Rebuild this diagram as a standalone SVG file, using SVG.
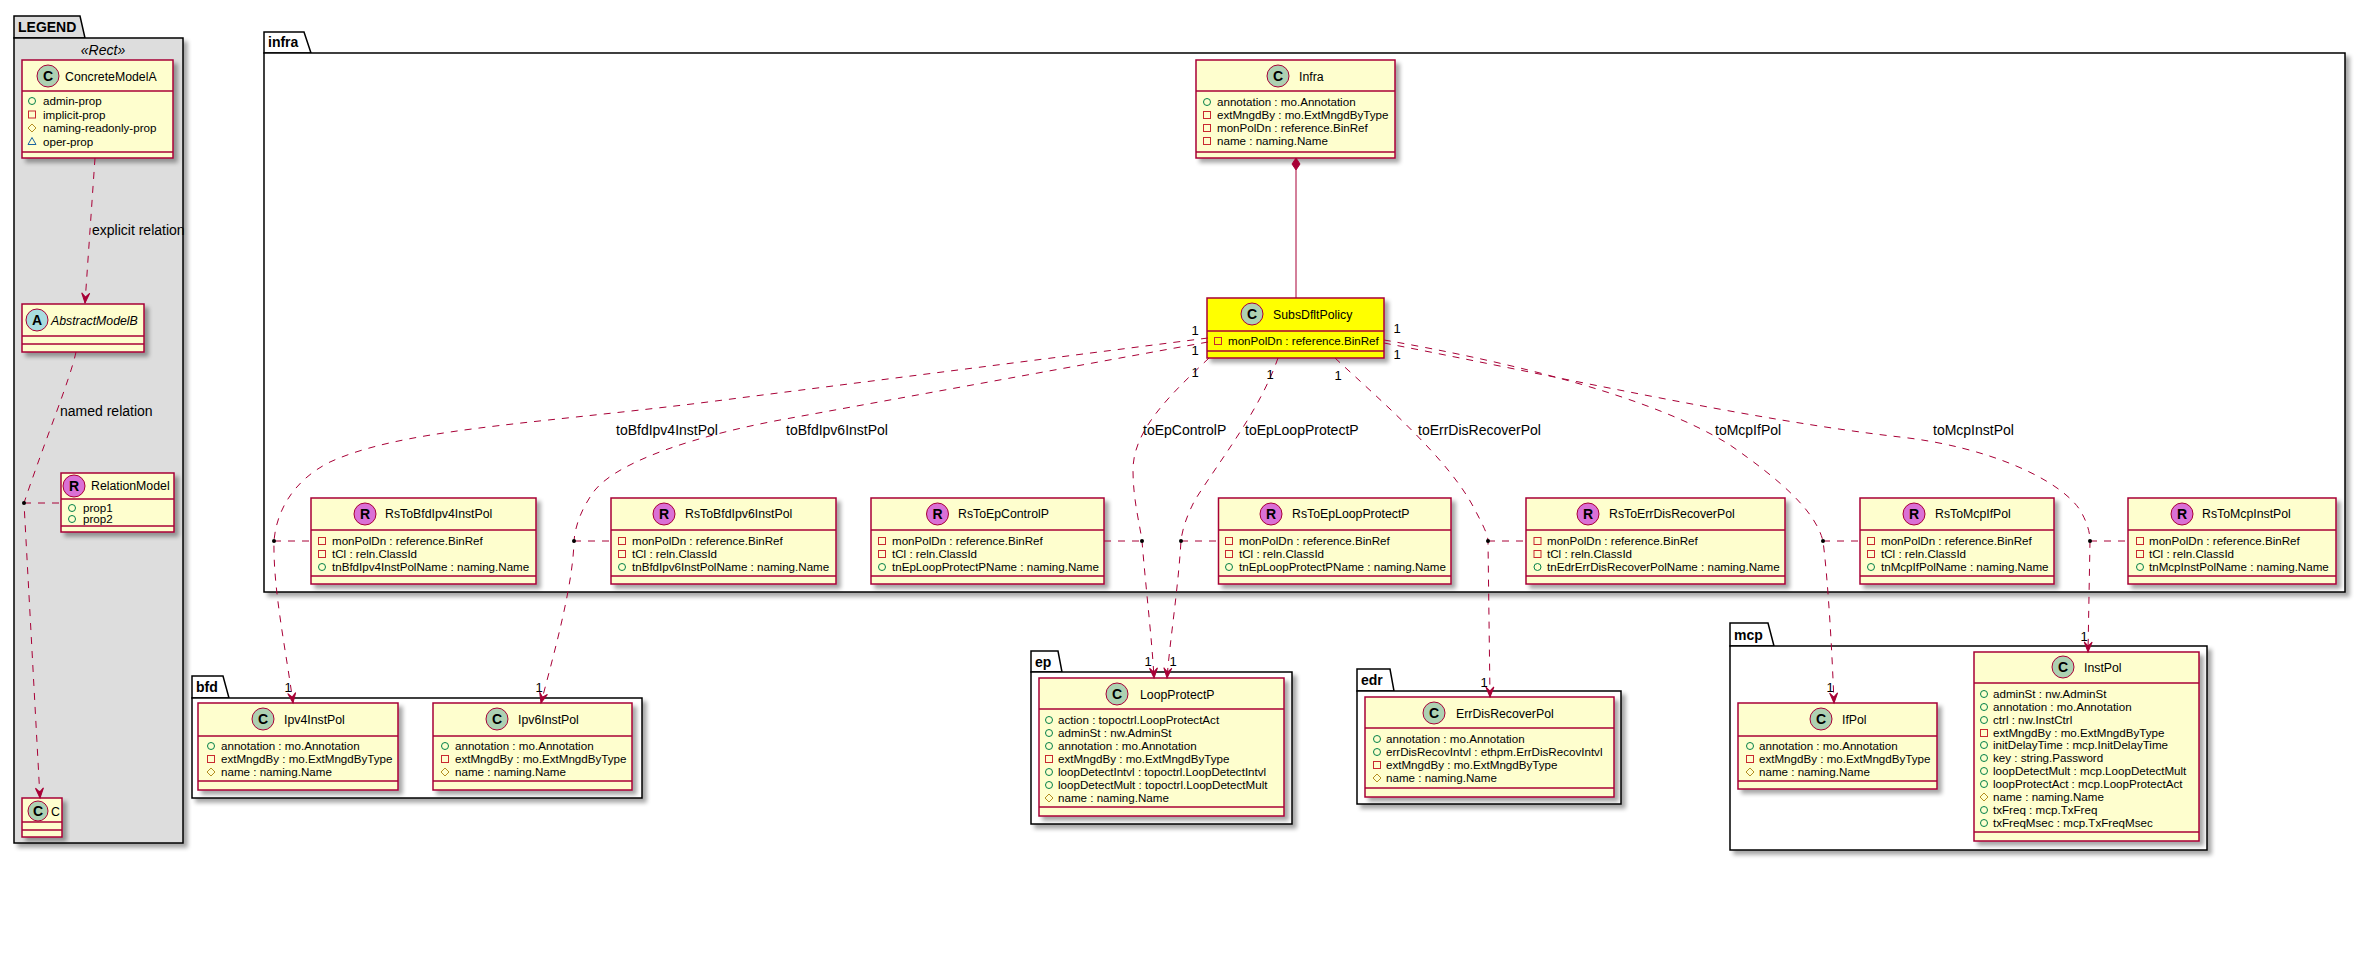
<svg xmlns="http://www.w3.org/2000/svg" xmlns:xlink="http://www.w3.org/1999/xlink" width="2365" height="970" viewBox="0 0 2365 970">
<defs>
<style>
text{font-family:"Liberation Sans",Arial,sans-serif;fill:#000}
.box{fill:#FEFECE;stroke:#A80036;stroke-width:1.5;filter:url(#sh)}
.ybox{fill:#FFFF00;stroke:#A80036;stroke-width:1.5;filter:url(#sh)}
.sep{stroke:#A80036;stroke-width:1.5}
.pkg{fill:#FFFFFF;stroke:#000;stroke-width:1.5}
.pkgb{fill:#FFFFFF;stroke:#000;stroke-width:1.5;filter:url(#sh)}
.lg{fill:#DDDDDD;stroke:#000;stroke-width:1.5}
.lgb{fill:#DDDDDD;stroke:#000;stroke-width:1.5;filter:url(#sh)}
.pt{font-size:14px;font-weight:bold}
.nm{font-size:12.3px}
.at{font-size:11.6px}
.bl{font-size:14px;font-weight:bold;text-anchor:middle}
.bC{fill:#ADD1B2;stroke:#A80036;stroke-width:1}
.bA{fill:#A9DCDF;stroke:#A80036;stroke-width:1}
.bR{fill:#DA70D6;stroke:#A80036;stroke-width:1}
.edge{fill:none;stroke:#A80036;stroke-width:1;stroke-dasharray:7,7}
.solid{fill:none;stroke:#A80036;stroke-width:1}
.lbl{font-size:14px}
.mul{font-size:13px;text-anchor:middle}
</style>
<filter id="sh" x="-10%" y="-10%" width="130%" height="130%">
<feGaussianBlur in="SourceAlpha" stdDeviation="2"/>
<feOffset dx="4" dy="4" result="o"/>
<feComponentTransfer><feFuncA type="linear" slope="0.35"/></feComponentTransfer>
<feMerge><feMergeNode/><feMergeNode in="SourceGraphic"/></feMerge>
</filter>
<marker id="ah" markerWidth="12" markerHeight="10" refX="0" refY="0" orient="auto" markerUnits="userSpaceOnUse" overflow="visible">
<path d="M0,0 L-10,-4 L-6,0 L-10,4 Z" fill="#A80036" stroke="#A80036" stroke-width="1"/>
</marker>
<g id="ipub"><circle r="3.5" fill="none" stroke="#038048" stroke-width="1"/></g>
<g id="ipriv"><rect x="-3.5" y="-3.5" width="7" height="7" fill="none" stroke="#C82930" stroke-width="1"/></g>
<g id="iprot"><path d="M0,-4 L4,0 L0,4 L-4,0 Z" fill="none" stroke="#B38D22" stroke-width="1"/></g>
<g id="ipkg"><path d="M0,-4 L4,3 L-4,3 Z" fill="none" stroke="#1963A0" stroke-width="1"/></g>
</defs>
<rect width="2365" height="970" fill="#FFFFFF"/>

<!-- packages -->
<g id="pkg-LEGEND">
<path class="lg" d="M14,38 L14,16 L80,16 L85,38 Z"/>
<rect class="lgb" x="14" y="38" width="169" height="805"/>
<text class="pt" x="18" y="32">LEGEND</text>
<text x="103" y="55" font-size="14" font-style="italic" text-anchor="middle">«Rect»</text>
</g>
<g id="pkg-infra">
<path class="pkg" d="M264,53 L264,32 L304,32 L311,53 Z"/>
<rect class="pkgb" x="264" y="53" width="2081" height="539"/>
<text class="pt" x="268" y="47">infra</text>
</g>
<g id="pkg-bfd">
<path class="pkg" d="M192,698 L192,676 L223,676 L229,698 Z"/>
<rect class="pkgb" x="192" y="698" width="450" height="100"/>
<text class="pt" x="196" y="692">bfd</text>
</g>
<g id="pkg-ep">
<path class="pkg" d="M1031,672 L1031,651 L1058,651 L1062,672 Z"/>
<rect class="pkgb" x="1031" y="672" width="261" height="152"/>
<text class="pt" x="1035" y="667">ep</text>
</g>
<g id="pkg-edr">
<path class="pkg" d="M1357,691 L1357,669 L1390,669 L1394,691 Z"/>
<rect class="pkgb" x="1357" y="691" width="264" height="113"/>
<text class="pt" x="1361" y="685">edr</text>
</g>
<g id="pkg-mcp">
<path class="pkg" d="M1730,646 L1730,623 L1768,623 L1774,646 Z"/>
<rect class="pkgb" x="1730" y="646" width="477" height="204"/>
<text class="pt" x="1734" y="640">mcp</text>
</g>

<!-- legend nodes -->
<g id="ConcreteModelA">
<rect class="box" x="22" y="60" width="151" height="98"/>
<line class="sep" x1="22" y1="91" x2="173" y2="91"/>
<line class="sep" x1="22" y1="152" x2="173" y2="152"/>
<circle class="bC" cx="48" cy="76" r="11"/><text class="bl" x="48" y="81">C</text>
<text class="nm" x="65" y="81">ConcreteModelA</text>
<use xlink:href="#ipub" x="32" y="101"/><text class="at" x="43" y="105">admin-prop</text>
<use xlink:href="#ipriv" x="32" y="114.5"/><text class="at" x="43" y="118.5">implicit-prop</text>
<use xlink:href="#iprot" x="32" y="128"/><text class="at" x="43" y="132">naming-readonly-prop</text>
<use xlink:href="#ipkg" x="32" y="141.5"/><text class="at" x="43" y="145.5">oper-prop</text>
</g>
<g id="AbstractModelB">
<rect class="box" x="22" y="304" width="122" height="48"/>
<line class="sep" x1="22" y1="336" x2="144" y2="336"/>
<line class="sep" x1="22" y1="344" x2="144" y2="344"/>
<circle class="bA" cx="37" cy="320" r="11"/><text class="bl" x="37" y="325">A</text>
<text class="nm" x="51" y="325" font-style="italic">AbstractModelB</text>
</g>
<g id="RelationModel">
<rect class="box" x="61" y="473" width="113" height="59"/>
<line class="sep" x1="61" y1="499" x2="174" y2="499"/>
<line class="sep" x1="61" y1="526" x2="174" y2="526"/>
<circle class="bR" cx="74" cy="486" r="11"/><text class="bl" x="74" y="491">R</text>
<text class="nm" x="91" y="490">RelationModel</text>
<use xlink:href="#ipub" x="72" y="508"/><text class="at" x="83" y="512">prop1</text>
<use xlink:href="#ipub" x="72" y="519"/><text class="at" x="83" y="523">prop2</text>
</g>
<g id="C">
<rect class="box" x="22" y="798" width="40" height="39"/>
<line class="sep" x1="22" y1="822" x2="62" y2="822"/>
<line class="sep" x1="22" y1="830" x2="62" y2="830"/>
<circle class="bC" cx="38" cy="811" r="10"/><text class="bl" x="38" y="816">C</text>
<text class="nm" x="51" y="816">C</text>
</g>

<!-- infra nodes -->
<g id="Infra">
<rect class="box" x="1196" y="60" width="199" height="98"/>
<line class="sep" x1="1196" y1="91" x2="1395" y2="91"/>
<line class="sep" x1="1196" y1="152" x2="1395" y2="152"/>
<circle class="bC" cx="1278" cy="76" r="11"/><text class="bl" x="1278" y="81">C</text>
<text class="nm" x="1299" y="81">Infra</text>
<use xlink:href="#ipub" x="1207" y="102"/><text class="at" x="1217" y="106">annotation : mo.Annotation</text>
<use xlink:href="#ipriv" x="1207" y="115"/><text class="at" x="1217" y="119">extMngdBy : mo.ExtMngdByType</text>
<use xlink:href="#ipriv" x="1207" y="128"/><text class="at" x="1217" y="132">monPolDn : reference.BinRef</text>
<use xlink:href="#ipriv" x="1207" y="141"/><text class="at" x="1217" y="145">name : naming.Name</text>
</g>
<g id="SubsDfltPolicy">
<rect class="ybox" x="1207" y="298" width="177" height="60"/>
<line class="sep" x1="1207" y1="331" x2="1384" y2="331"/>
<line class="sep" x1="1207" y1="351" x2="1384" y2="351"/>
<circle class="bC" cx="1252" cy="314" r="11"/><text class="bl" x="1252" y="319">C</text>
<text class="nm" x="1273" y="319">SubsDfltPolicy</text>
<use xlink:href="#ipriv" x="1218" y="341"/><text class="at" x="1228" y="345">monPolDn : reference.BinRef</text>
</g>

<g id="RsToBfdIpv4InstPol">
<rect class="box" x="311" y="498" width="225" height="86"/>
<line class="sep" x1="311" y1="530" x2="536" y2="530"/>
<line class="sep" x1="311" y1="576" x2="536" y2="576"/>
<circle class="bR" cx="365" cy="514" r="11"/><text class="bl" x="365" y="519">R</text>
<text class="nm" x="385" y="518">RsToBfdIpv4InstPol</text>
<use xlink:href="#ipriv" x="322" y="541"/><text class="at" x="332" y="545">monPolDn : reference.BinRef</text>
<use xlink:href="#ipriv" x="322" y="554"/><text class="at" x="332" y="558">tCl : reln.ClassId</text>
<use xlink:href="#ipub" x="322" y="567"/><text class="at" x="332" y="571">tnBfdIpv4InstPolName : naming.Name</text>
</g>
<g id="RsToBfdIpv6InstPol">
<rect class="box" x="611" y="498" width="225" height="86"/>
<line class="sep" x1="611" y1="530" x2="836" y2="530"/>
<line class="sep" x1="611" y1="576" x2="836" y2="576"/>
<circle class="bR" cx="664" cy="514" r="11"/><text class="bl" x="664" y="519">R</text>
<text class="nm" x="685" y="518">RsToBfdIpv6InstPol</text>
<use xlink:href="#ipriv" x="622" y="541"/><text class="at" x="632" y="545">monPolDn : reference.BinRef</text>
<use xlink:href="#ipriv" x="622" y="554"/><text class="at" x="632" y="558">tCl : reln.ClassId</text>
<use xlink:href="#ipub" x="622" y="567"/><text class="at" x="632" y="571">tnBfdIpv6InstPolName : naming.Name</text>
</g>
<g id="RsToEpControlP">
<rect class="box" x="871" y="498" width="233" height="86"/>
<line class="sep" x1="871" y1="530" x2="1104" y2="530"/>
<line class="sep" x1="871" y1="576" x2="1104" y2="576"/>
<circle class="bR" cx="937.5" cy="514" r="11"/><text class="bl" x="937.5" y="519">R</text>
<text class="nm" x="958" y="518">RsToEpControlP</text>
<use xlink:href="#ipriv" x="882" y="541"/><text class="at" x="892" y="545">monPolDn : reference.BinRef</text>
<use xlink:href="#ipriv" x="882" y="554"/><text class="at" x="892" y="558">tCl : reln.ClassId</text>
<use xlink:href="#ipub" x="882" y="567"/><text class="at" x="892" y="571">tnEpLoopProtectPName : naming.Name</text>
</g>
<g id="RsToEpLoopProtectP">
<rect class="box" x="1218.5" y="498" width="232.5" height="86"/>
<line class="sep" x1="1218.5" y1="530" x2="1451" y2="530"/>
<line class="sep" x1="1218.5" y1="576" x2="1451" y2="576"/>
<circle class="bR" cx="1271" cy="514" r="11"/><text class="bl" x="1271" y="519">R</text>
<text class="nm" x="1292" y="518">RsToEpLoopProtectP</text>
<use xlink:href="#ipriv" x="1229" y="541"/><text class="at" x="1239" y="545">monPolDn : reference.BinRef</text>
<use xlink:href="#ipriv" x="1229" y="554"/><text class="at" x="1239" y="558">tCl : reln.ClassId</text>
<use xlink:href="#ipub" x="1229" y="567"/><text class="at" x="1239" y="571">tnEpLoopProtectPName : naming.Name</text>
</g>
<g id="RsToErrDisRecoverPol">
<rect class="box" x="1526" y="498" width="259" height="86"/>
<line class="sep" x1="1526" y1="530" x2="1785" y2="530"/>
<line class="sep" x1="1526" y1="576" x2="1785" y2="576"/>
<circle class="bR" cx="1588" cy="514" r="11"/><text class="bl" x="1588" y="519">R</text>
<text class="nm" x="1609" y="518">RsToErrDisRecoverPol</text>
<use xlink:href="#ipriv" x="1537.5" y="541"/><text class="at" x="1547" y="545">monPolDn : reference.BinRef</text>
<use xlink:href="#ipriv" x="1537.5" y="554"/><text class="at" x="1547" y="558">tCl : reln.ClassId</text>
<use xlink:href="#ipub" x="1537.5" y="567"/><text class="at" x="1547" y="571">tnEdrErrDisRecoverPolName : naming.Name</text>
</g>
<g id="RsToMcpIfPol">
<rect class="box" x="1860" y="498" width="194" height="86"/>
<line class="sep" x1="1860" y1="530" x2="2054" y2="530"/>
<line class="sep" x1="1860" y1="576" x2="2054" y2="576"/>
<circle class="bR" cx="1914" cy="514" r="11"/><text class="bl" x="1914" y="519">R</text>
<text class="nm" x="1935" y="518">RsToMcpIfPol</text>
<use xlink:href="#ipriv" x="1871" y="541"/><text class="at" x="1881" y="545">monPolDn : reference.BinRef</text>
<use xlink:href="#ipriv" x="1871" y="554"/><text class="at" x="1881" y="558">tCl : reln.ClassId</text>
<use xlink:href="#ipub" x="1871" y="567"/><text class="at" x="1881" y="571">tnMcpIfPolName : naming.Name</text>
</g>
<g id="RsToMcpInstPol">
<rect class="box" x="2128" y="498" width="208" height="86"/>
<line class="sep" x1="2128" y1="530" x2="2336" y2="530"/>
<line class="sep" x1="2128" y1="576" x2="2336" y2="576"/>
<circle class="bR" cx="2182" cy="514" r="11"/><text class="bl" x="2182" y="519">R</text>
<text class="nm" x="2202" y="518">RsToMcpInstPol</text>
<use xlink:href="#ipriv" x="2140" y="541"/><text class="at" x="2149" y="545">monPolDn : reference.BinRef</text>
<use xlink:href="#ipriv" x="2140" y="554"/><text class="at" x="2149" y="558">tCl : reln.ClassId</text>
<use xlink:href="#ipub" x="2140" y="567"/><text class="at" x="2149" y="571">tnMcpInstPolName : naming.Name</text>
</g>

<!-- bfd nodes -->
<g id="Ipv4InstPol">
<rect class="box" x="198" y="703" width="200" height="87"/>
<line class="sep" x1="198" y1="736" x2="398" y2="736"/>
<line class="sep" x1="198" y1="781" x2="398" y2="781"/>
<circle class="bC" cx="263" cy="719" r="11"/><text class="bl" x="263" y="724">C</text>
<text class="nm" x="284" y="724">Ipv4InstPol</text>
<use xlink:href="#ipub" x="211" y="746"/><text class="at" x="221" y="750">annotation : mo.Annotation</text>
<use xlink:href="#ipriv" x="211" y="759"/><text class="at" x="221" y="763">extMngdBy : mo.ExtMngdByType</text>
<use xlink:href="#iprot" x="211" y="772"/><text class="at" x="221" y="776">name : naming.Name</text>
</g>
<g id="Ipv6InstPol">
<rect class="box" x="433" y="703" width="199" height="87"/>
<line class="sep" x1="433" y1="736" x2="632" y2="736"/>
<line class="sep" x1="433" y1="781" x2="632" y2="781"/>
<circle class="bC" cx="497" cy="719" r="11"/><text class="bl" x="497" y="724">C</text>
<text class="nm" x="518" y="724">Ipv6InstPol</text>
<use xlink:href="#ipub" x="445" y="746"/><text class="at" x="455" y="750">annotation : mo.Annotation</text>
<use xlink:href="#ipriv" x="445" y="759"/><text class="at" x="455" y="763">extMngdBy : mo.ExtMngdByType</text>
<use xlink:href="#iprot" x="445" y="772"/><text class="at" x="455" y="776">name : naming.Name</text>
</g>

<!-- ep -->
<g id="LoopProtectP">
<rect class="box" x="1039" y="678" width="245" height="138"/>
<line class="sep" x1="1039" y1="709" x2="1284" y2="709"/>
<line class="sep" x1="1039" y1="807" x2="1284" y2="807"/>
<circle class="bC" cx="1117" cy="694" r="11"/><text class="bl" x="1117" y="699">C</text>
<text class="nm" x="1140" y="699">LoopProtectP</text>
<use xlink:href="#ipub" x="1049" y="720"/><text class="at" x="1058" y="724">action : topoctrl.LoopProtectAct</text>
<use xlink:href="#ipub" x="1049" y="733"/><text class="at" x="1058" y="737">adminSt : nw.AdminSt</text>
<use xlink:href="#ipub" x="1049" y="746"/><text class="at" x="1058" y="750">annotation : mo.Annotation</text>
<use xlink:href="#ipriv" x="1049" y="759"/><text class="at" x="1058" y="763">extMngdBy : mo.ExtMngdByType</text>
<use xlink:href="#ipub" x="1049" y="772"/><text class="at" x="1058" y="776">loopDetectIntvl : topoctrl.LoopDetectIntvl</text>
<use xlink:href="#ipub" x="1049" y="785"/><text class="at" x="1058" y="789">loopDetectMult : topoctrl.LoopDetectMult</text>
<use xlink:href="#iprot" x="1049" y="798"/><text class="at" x="1058" y="802">name : naming.Name</text>
</g>

<!-- edr -->
<g id="ErrDisRecoverPol">
<rect class="box" x="1365" y="697" width="249" height="100"/>
<line class="sep" x1="1365" y1="728" x2="1614" y2="728"/>
<line class="sep" x1="1365" y1="788" x2="1614" y2="788"/>
<circle class="bC" cx="1434" cy="713" r="11"/><text class="bl" x="1434" y="718">C</text>
<text class="nm" x="1456" y="718">ErrDisRecoverPol</text>
<use xlink:href="#ipub" x="1377" y="739"/><text class="at" x="1386" y="743">annotation : mo.Annotation</text>
<use xlink:href="#ipub" x="1377" y="752"/><text class="at" x="1386" y="756">errDisRecovIntvl : ethpm.ErrDisRecovIntvl</text>
<use xlink:href="#ipriv" x="1377" y="765"/><text class="at" x="1386" y="769">extMngdBy : mo.ExtMngdByType</text>
<use xlink:href="#iprot" x="1377" y="778"/><text class="at" x="1386" y="782">name : naming.Name</text>
</g>

<!-- mcp -->
<g id="IfPol">
<rect class="box" x="1738" y="703" width="199" height="86"/>
<line class="sep" x1="1738" y1="736" x2="1937" y2="736"/>
<line class="sep" x1="1738" y1="781" x2="1937" y2="781"/>
<circle class="bC" cx="1821" cy="719" r="11"/><text class="bl" x="1821" y="724">C</text>
<text class="nm" x="1842" y="724">IfPol</text>
<use xlink:href="#ipub" x="1750" y="746"/><text class="at" x="1759" y="750">annotation : mo.Annotation</text>
<use xlink:href="#ipriv" x="1750" y="759"/><text class="at" x="1759" y="763">extMngdBy : mo.ExtMngdByType</text>
<use xlink:href="#iprot" x="1750" y="772"/><text class="at" x="1759" y="776">name : naming.Name</text>
</g>
<g id="InstPol">
<rect class="box" x="1974" y="652" width="225" height="189"/>
<line class="sep" x1="1974" y1="683" x2="2199" y2="683"/>
<line class="sep" x1="1974" y1="832" x2="2199" y2="832"/>
<circle class="bC" cx="2063" cy="667" r="11"/><text class="bl" x="2063" y="672">C</text>
<text class="nm" x="2084" y="672">InstPol</text>
<use xlink:href="#ipub" x="1984" y="694"/><text class="at" x="1993" y="698">adminSt : nw.AdminSt</text>
<use xlink:href="#ipub" x="1984" y="707"/><text class="at" x="1993" y="711">annotation : mo.Annotation</text>
<use xlink:href="#ipub" x="1984" y="720"/><text class="at" x="1993" y="724">ctrl : nw.InstCtrl</text>
<use xlink:href="#ipriv" x="1984" y="733"/><text class="at" x="1993" y="737">extMngdBy : mo.ExtMngdByType</text>
<use xlink:href="#ipub" x="1984" y="745"/><text class="at" x="1993" y="749">initDelayTime : mcp.InitDelayTime</text>
<use xlink:href="#ipub" x="1984" y="758"/><text class="at" x="1993" y="762">key : string.Password</text>
<use xlink:href="#ipub" x="1984" y="771"/><text class="at" x="1993" y="775">loopDetectMult : mcp.LoopDetectMult</text>
<use xlink:href="#ipub" x="1984" y="784"/><text class="at" x="1993" y="788">loopProtectAct : mcp.LoopProtectAct</text>
<use xlink:href="#iprot" x="1984" y="797"/><text class="at" x="1993" y="801">name : naming.Name</text>
<use xlink:href="#ipub" x="1984" y="810"/><text class="at" x="1993" y="814">txFreq : mcp.TxFreq</text>
<use xlink:href="#ipub" x="1984" y="823"/><text class="at" x="1993" y="827">txFreqMsec : mcp.TxFreqMsec</text>
</g>

<!-- connectors -->
<g id="connectors">
<path class="edge" d="M95,158 L85,303" marker-end="url(#ah)"/>
<text class="lbl" x="92" y="235">explicit relation</text>
<path class="edge" d="M76,352 C70,380 45,440 24,503 L40,798" marker-end="url(#ah)"/>
<text class="lbl" x="60" y="416">named relation</text>
<path class="edge" d="M24,503 L61,503"/>
<circle cx="24" cy="503" r="2" fill="#000"/>

<path class="solid" d="M1296,170 L1296,298"/>
<path d="M1296,158 L1300,164 L1296,170 L1292,164 Z" fill="#A80036" stroke="#A80036" stroke-width="1"/>

<path class="edge" d="M1208,338 L700,403 C520,425 400,430 330,462 C290,482 276,515 274,541 C273,590 286,650 293,703" marker-end="url(#ah)"/>
<path class="edge" d="M1208,342 L780,420 C700,435 620,460 595,490 C580,510 575,528 574,541 C573,585 555,650 541,703" marker-end="url(#ah)"/>
<path class="edge" d="M1209,358 C1170,395 1133,430 1133,470 C1133,500 1140,525 1142,541 C1146,590 1152,640 1154,678" marker-end="url(#ah)"/>
<path class="edge" d="M1278,358 C1260,410 1220,460 1195,500 C1187,515 1182,530 1181,541 C1178,590 1170,640 1167,678" marker-end="url(#ah)"/>
<path class="edge" d="M1335,358 C1380,400 1450,460 1475,510 C1483,525 1488,535 1488,541 L1490,697" marker-end="url(#ah)"/>
<path class="edge" d="M1384,340 C1500,360 1650,395 1730,445 C1780,480 1815,510 1823,541 C1828,580 1832,650 1834,703" marker-end="url(#ah)"/>
<path class="edge" d="M1384,343 C1550,375 1750,420 1900,437 C1990,447 2060,480 2080,510 C2087,522 2090,532 2090,541 L2088,652" marker-end="url(#ah)"/>

<path class="edge" d="M274,541 L311,541"/>
<path class="edge" d="M574,541 L611,541"/>
<path class="edge" d="M1104,541 L1142,541"/>
<path class="edge" d="M1181,541 L1218.5,541"/>
<path class="edge" d="M1488,541 L1526,541"/>
<path class="edge" d="M1823,541 L1860,541"/>
<path class="edge" d="M2090,541 L2128,541"/>
<g fill="#000">
<circle cx="274" cy="541" r="2"/>
<circle cx="574" cy="541" r="2"/>
<circle cx="1142" cy="541" r="2"/>
<circle cx="1181" cy="541" r="2"/>
<circle cx="1488" cy="541" r="2"/>
<circle cx="1823" cy="541" r="2"/>
<circle cx="2090" cy="541" r="2"/>
</g>

<text class="lbl" x="616" y="435">toBfdIpv4InstPol</text>
<text class="lbl" x="786" y="435">toBfdIpv6InstPol</text>
<text class="lbl" x="1143" y="435">toEpControlP</text>
<text class="lbl" x="1245" y="435">toEpLoopProtectP</text>
<text class="lbl" x="1418" y="435">toErrDisRecoverPol</text>
<text class="lbl" x="1715" y="435">toMcpIfPol</text>
<text class="lbl" x="1933" y="435">toMcpInstPol</text>

<text class="mul" x="1195" y="335">1</text>
<text class="mul" x="1195" y="355">1</text>
<text class="mul" x="1195" y="377">1</text>
<text class="mul" x="1270" y="379">1</text>
<text class="mul" x="1338" y="380">1</text>
<text class="mul" x="1397" y="333">1</text>
<text class="mul" x="1397" y="359">1</text>
<text class="mul" x="288" y="692">1</text>
<text class="mul" x="539" y="692">1</text>
<text class="mul" x="1148" y="666">1</text>
<text class="mul" x="1173" y="666">1</text>
<text class="mul" x="1484" y="687">1</text>
<text class="mul" x="1830" y="692">1</text>
<text class="mul" x="2084" y="641">1</text>
</g>
</svg>
